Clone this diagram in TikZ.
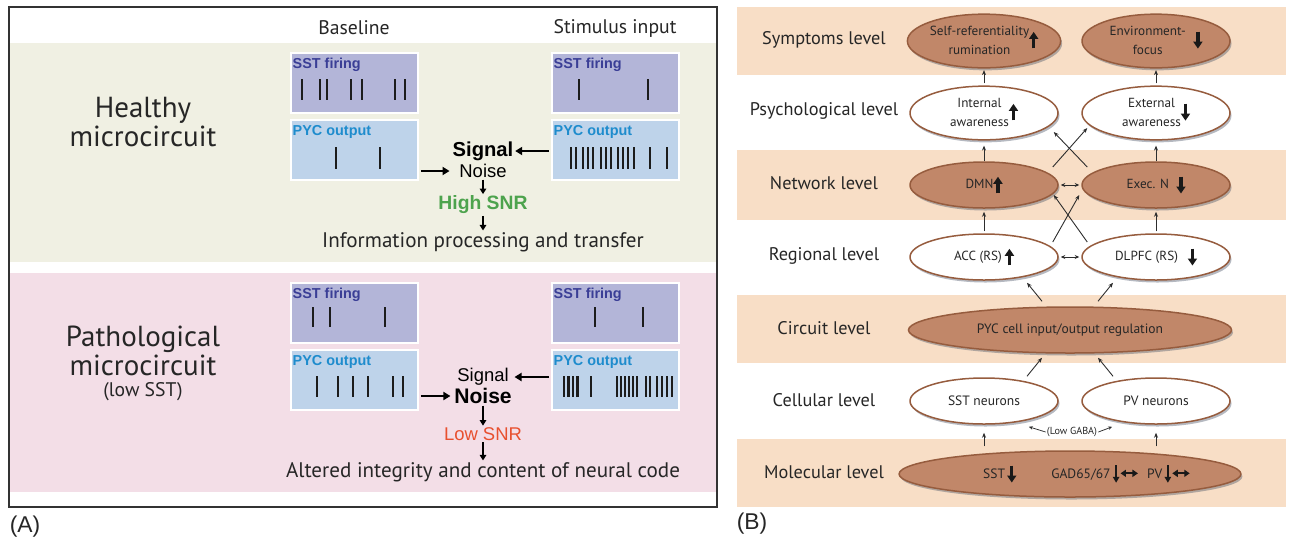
\documentclass[tikz,border=0pt]{standalone}
\usepackage{fontspec}
\setmainfont{PT Sans}
\newfontfamily\arialf{Liberation Sans}
\usepackage{tikz}
\usetikzlibrary{calc,positioning}
\usetikzlibrary{arrows.meta,shapes.geometric,shadows,math}

\definecolor{hband}{RGB}{240,240,227}
\definecolor{pband}{RGB}{243,222,231}
\definecolor{sstfill}{RGB}{179,181,216}
\definecolor{pycfill}{RGB}{190,211,234}
\definecolor{sstlabcol}{RGB}{58,62,150}
\definecolor{pyclabcol}{RGB}{30,140,205}
\definecolor{spikecol}{RGB}{28,28,28}
\definecolor{txtcol}{RGB}{38,38,38}
\definecolor{snrgreen}{RGB}{77,163,77}
\definecolor{snrred}{RGB}{232,80,47}
\definecolor{peach}{RGB}{248,222,198}
\definecolor{ovfill}{RGB}{193,135,105}
\definecolor{ovedge}{RGB}{150,92,62}
\definecolor{shadowcol}{RGB}{70,80,100}
\definecolor{arrcol}{RGB}{45,45,45}

% little arrows inside the ellipses
\newcommand{\upfat}{\tikz[baseline={([yshift=-0.3em]current bounding box.center)}]\draw[draw=black!90,line width=0.65mm,-{Triangle[width=1.8mm,length=1.4mm]}] (0pt,0pt) -- (0pt,3.3mm);}
\newcommand{\dnfat}{\tikz[baseline={([yshift=-0.3em]current bounding box.center)}]\draw[draw=black!90,line width=0.65mm,-{Triangle[width=1.8mm,length=1.4mm]}] (0pt,3.4mm) -- (0pt,0pt);}
\newcommand{\dnthin}{\tikz[baseline={([yshift=-0.3em]current bounding box.center)}]\draw[draw=black!90,line width=0.28mm,-{Triangle[width=1.3mm,length=1.2mm]}] (0pt,3.5mm) -- (0pt,0pt);}
\newcommand{\lrfat}{\tikz[baseline={([yshift=-0.35em]current bounding box.center)}]\draw[draw=black!90,line width=0.45mm,{Triangle[width=1.4mm,length=1.1mm]}-{Triangle[width=1.4mm,length=1.1mm]}] (0pt,0pt) -- (3.5mm,0pt);}

\begin{document}
\begin{tikzpicture}[x=0.2mm, y=-0.2mm,
	spike/.style={line width=0.45mm, draw=spikecol},
	sstbox/.style={draw=white, line width=0.35mm, fill=sstfill, minimum width=25.4mm, minimum height=12mm, inner sep=0pt},
	pycbox/.style={sstbox, fill=pycfill},
	boxlab/.style={anchor=north west, inner xsep=0.45mm, inner ysep=1.1mm, font=\arialf\bfseries\fontsize{8.2}{9}\selectfont},
	colhead/.style={font=\fontsize{11.2}{13}\selectfont, text=txtcol},
	bigtxt/.style={align=center, font=\fontsize{16.5}{15}\selectfont, text=txtcol},
	sigbold/.style={font=\arialf\bfseries\fontsize{11.5}{13}\selectfont, inner sep=0.3mm},
	sigreg/.style={font=\arialf\fontsize{10.5}{12}\selectfont, inner sep=0.3mm},
	outtxt/.style={font=\fontsize{12}{14}\selectfont, text=txtcol, inner sep=0.3mm},
	fatarr/.style={line width=0.55mm, -{Triangle[width=1.6mm,length=1.4mm]}},
	downarr/.style={line width=0.45mm, -{Triangle[width=1.3mm,length=1.1mm]}},
	panlab/.style={font=\arialf\fontsize{13}{15}\selectfont, text=txtcol},
	lvl/.style={font=\fontsize{10.4}{12}\selectfont, text=txtcol},
	ovb/.style={ellipse, draw=ovedge, line width=0.3mm, fill=ovfill, minimum width=29.6mm, minimum height=9.2mm, inner sep=0pt, font=\fontsize{7.5}{10.8}\selectfont, text=txtcol, drop shadow={shadow xshift=0.3mm, shadow yshift=-0.5mm, fill=shadowcol, opacity=0.4}},
	ovw/.style={ovb, fill=white},
	ovwide/.style={minimum width=64.6mm},
	thinarr/.style={line width=0.18mm, draw=arrcol, -{Stealth[length=1mm,width=0.8mm]}},
	dblarr/.style={line width=0.18mm, draw=arrcol, {Stealth[length=0.9mm,width=0.8mm]}-{Stealth[length=0.9mm,width=0.8mm]}, shorten <=0.4mm, shorten >=0.4mm},
	tinyarr/.style={line width=0.15mm, draw=arrcol, -{Stealth[length=0.8mm,width=0.7mm]}}
	]
	\useasboundingbox (0,0) rectangle (1289,540);
	\tikzmath{
		\rowsh = 230;
	};
	%%% (A)
	\fill[hband] (10,43) rectangle (716,262);
	\fill[pband] (10,273) rectangle (716,492);
	\draw[line width=0.55mm, draw=black!80] (9,7) rectangle (717,507);
	\node[colhead] (tbase) at (354,28) {Baseline};
	\node[colhead] (tstim) at (615,28) {Stimulus input};
	\node[bigtxt] (thealthy) at (143,122) {Healthy\\microcircuit};
	\node[bigtxt] (tpatho) at (143,351) {Pathological\\microcircuit};
	\node[colhead] (tlowsst) at (143,392) {(low SST)};
	% boxes
	\node[sstbox] (hbs) at (354.5,83) {};
	\node[pycbox] (hbp) at (354.5,150) {};
	\node[sstbox] (hss) at (615.5,83) {};
	\node[pycbox] (hsp) at (615.5,150) {};
	\node[sstbox] (pbs) at (354.5,83+\rowsh) {};
	\node[pycbox] (pbp) at (354.5,150+\rowsh) {};
	\node[sstbox] (pss) at (615.5,83+\rowsh) {};
	\node[pycbox] (psp) at (615.5,150+\rowsh) {};
	\foreach \b in {hbs,hss,pbs,pss}
		\node[boxlab, text=sstlabcol] (\b lab) at (\b.north west) {SST firing};
	\foreach \b in {hbp,hsp,pbp,psp}
		\node[boxlab, text=pyclabcol] (\b lab) at (\b.north west) {PYC output};
	% spikes
	\foreach \s in {302,320,327,351,362,395,405} \draw[spike] (\s,79) -- (\s,100);
	\foreach \s in {336,380} \draw[spike] (\s,147) -- (\s,169);
	\foreach \s in {579,648} \draw[spike] (\s,79) -- (\s,100);
	\foreach \s in {571,576,583,588,593,601,606,611,618,623,628,634,650,667} \draw[spike] (\s,147) -- (\s,169);
	\foreach \s in {313,330,385} \draw[spike] (\s,77+\rowsh) -- (\s,97+\rowsh);
	\foreach \s in {317,338,353,368,393,403} \draw[spike] (\s,146+\rowsh) -- (\s,167+\rowsh);
	\foreach \s in {595,643} \draw[spike] (\s,77+\rowsh) -- (\s,97+\rowsh);
	\foreach \s in {564,568.5,573,577.5,591,617,621,625,629,633,637,646,650,657,662,667,672} \draw[spike] (\s,146+\rowsh) -- (\s,167+\rowsh);
	% Drawing the nodes
	\node[sigbold] (hsig) at (483,151) {Signal};
	\node[sigreg] (hnoise) at (483,171) {Noise};
	\node[sigbold, font=\arialf\bfseries\fontsize{11}{13}\selectfont, text=snrgreen] (hsnr) at (483,205) {High SNR};
	\node[outtxt] (hout) at (483,242) {Information processing and transfer};
	\node[sigreg] (psig) at (483,377) {Signal};
	\node[sigbold, font=\arialf\bfseries\fontsize{12}{13}\selectfont] (pnoise) at (483,396) {Noise};
	\node[sigreg, text=snrred] (psnr) at (483,434) {Low SNR};
	\node[outtxt] (pout) at (483,472) {Altered integrity and content of neural code};
	% lines...
	\draw[fatarr, shorten <=0.4mm, shorten >=1.6mm] (hbp.east |- hnoise.west) -- (hnoise.west);
	\draw[fatarr, shorten <=0.4mm] (hsp.west |- hsig.east) -- (hsig.east);
	\draw[downarr] (hnoise.south) -- (hsnr.north);
	\draw[downarr] (hsnr.south) -- (hout.north);
	\draw[fatarr, shorten <=0.4mm, shorten >=0.4mm] (pbp.east |- pnoise.west) -- (pnoise.west);
	\draw[fatarr, shorten <=0.4mm, shorten >=0.8mm] (psp.west |- psig.east) -- (psig.east);
	\draw[downarr] (pnoise.south) -- (psnr.north);
	\draw[downarr] (psnr.south) -- (pout.north);
	\node[panlab] (labA) at (25,527) {(A)};
	%%% (B)
	\foreach \yt/\yb in {7/75,150/220,295/363,439/507}
		\fill[peach] (737,\yt) rectangle (1286,\yb);
	\node[lvl] (lsym) at (824,40) {Symptoms level};
	\node[lvl] (lpsy) at (824,111) {Psychological level};
	\node[lvl] (lnet) at (824,183) {Network level};
	\node[lvl] (lreg) at (824,256) {Regional level};
	\node[lvl] (lcir) at (824,328) {Circuit level};
	\node[lvl] (lcel) at (824,400) {Cellular level};
	\node[lvl] (lmol) at (824,472) {Molecular level};
	\node[ovb] (symL) at (984,41) {\begin{tabular}{@{}c@{}}Self-referentiality\\rumination\end{tabular}\upfat};
	\node[ovb] (symR) at (1156,41) {\begin{tabular}{@{}c@{}}Environment-\\focus\end{tabular}\hspace{1.5mm}\dnfat};
	\node[ovw] (psyL) at (984,113) {\begin{tabular}{@{}c@{}}Internal\\awareness\end{tabular}\upfat};
	\node[ovw] (psyR) at (1156,113) {\begin{tabular}{@{}c@{}}External\\awareness\end{tabular}\dnfat};
	\node[ovb] (netL) at (984,185) {DMN\upfat};
	\node[ovb] (netR) at (1156,185) {Exec. N\hspace{1.5mm}\dnfat};
	\node[ovw] (regL) at (984,257) {ACC (RS)\hspace{0.6mm}\upfat};
	\node[ovw] (regR) at (1156,257) {DLPFC (RS)\hspace{2mm}\dnfat};
	\node[ovb, ovwide, font=\fontsize{7.7}{10}\selectfont] (cir) at (1070,330) {PYC cell input/output regulation};
	\node[ovw, font=\fontsize{7.7}{10}\selectfont] (celL) at (984,401) {SST neurons};
	\node[ovw, font=\fontsize{7.7}{10}\selectfont] (celR) at (1156,401) {PV neurons};
	\node[ovb, ovwide, font=\fontsize{7.7}{10}\selectfont] (mol) at (1070,474) {\hspace*{6.8mm}SST\,\dnfat\hspace{7mm}GAD65/67\,\dnthin\lrfat\hspace{1.6mm}PV\,\dnthin\lrfat};
	\node[font=\fontsize{5.8}{7}\selectfont, text=txtcol, inner sep=0.2mm] (gaba) at (1072,432) {(Low GABA)};
	% lines...
	\draw[thinarr, shorten <=0.4mm, shorten >=0.3mm] (psyL.north) -- (symL.south);
	\draw[thinarr, shorten <=0.4mm, shorten >=0.3mm] (psyR.north) -- (symR.south);
	\draw[thinarr, shorten >=1mm] (netL.north) -- (psyL.south);
	\draw[thinarr, shorten >=1mm] (netR.north) -- (psyR.south);
	\draw[thinarr, shorten <=0.4mm, shorten >=0.6mm] (regL.north) -- (netL.south);
	\draw[thinarr, shorten <=0.4mm, shorten >=0.6mm] (regR.north) -- (netR.south);
	\draw[thinarr] ([shift={(-6,-18)}]netL.east) -- ([shift={(6,15)}]psyR.west);
	\draw[thinarr] ([shift={(6,-18)}]netR.west) -- ([shift={(-5,19)}]psyL.east);
	\draw[thinarr] ([shift={(-6,-15)}]regL.east) -- ([shift={(-2,10)}]netR.west);
	\draw[thinarr] ([shift={(6,-15)}]regR.west) -- ([shift={(-5,10)}]netL.east);
	\draw[dblarr] (netL.east) -- (netR.west);
	\draw[dblarr] (regL.east) -- (regR.west);
	\draw[thinarr] ([shift={(-28,-5)}]cir.north) -- ([shift={(43,2)}]regL.south);
	\draw[thinarr] ([shift={(28,-5)}]cir.north) -- ([shift={(-43,2)}]regR.south);
	\draw[thinarr] ([shift={(43,-1)}]celL.north) -- ([shift={(-28,4)}]cir.south);
	\draw[thinarr] ([shift={(-43,-1)}]celR.north) -- ([shift={(28,4)}]cir.south);
	\draw[thinarr] ([shift={(-86,-4)}]mol.north) -- ([shift={(0,8)}]celL.south);
	\draw[thinarr] ([shift={(86,-4)}]mol.north) -- ([shift={(0,8)}]celR.south);
	\draw[tinyarr] (gaba.west) -- ([shift={(-8,9)}]celL.south east);
	\draw[tinyarr] (gaba.east) -- ([shift={(9,9)}]celR.south west);
	\node[panlab] (labB) at (752,524) {(B)};
\end{tikzpicture}
\end{document}
